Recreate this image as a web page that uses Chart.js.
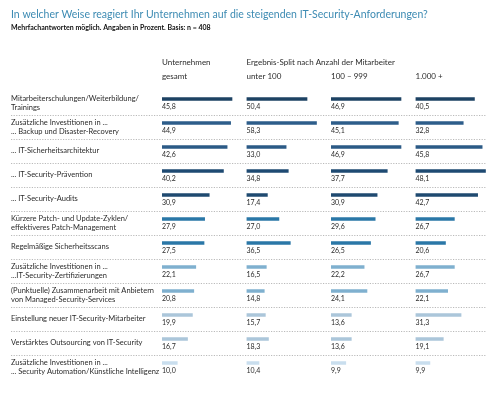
<!DOCTYPE html>
<html>
<head>
<meta charset="utf-8">
<script src="https://cdn.jsdelivr.net/npm/chart.js@4"></script>
<style>
    html, body { margin: 0; padding: 0; background: #fff; }
    #wrap { width: 500px; height: 397px; }
</style>
</head>
<body>
<div id="wrap"><canvas id="itSecurityChart"></canvas></div>
<script>
    // データ
    const labels = [
        ['Mitarbeiterschulungen/Weiterbildung/', 'Trainings'],
        ['Zusätzliche Investitionen in ...', '... Backup und Disaster-Recovery'],
        '... IT-Sicherheitsarchitektur',
        '... IT-Security-Prävention',
        '... IT-Security-Audits',
        ['Kürzere Patch- und Update-Zyklen/', 'effektiveres Patch-Management'],
        'Regelmäßige Sicherheitsscans',
        ['Zusätzliche Investitionen in ...', '...IT-Security-Zertifizierungen'],
        ['(Punktuelle) Zusammenarbeit mit Anbietern', 'von Managed-Security-Services'],
        'Einstellung neuer IT-Security-Mitarbeiter',
        'Verstärktes Outsourcing von IT-Security',
        ['Zusätzliche Investitionen in ...', '... Security Automation/Künstliche Intelligenz'],
    ];
    const gesamt = [45.8, 44.9, 42.6, 40.2, 30.9, 27.9, 27.5, 22.1, 20.8, 19.9, 16.7, 10.0];
    const unter100 = [50.4, 58.3, 33.0, 34.8, 17.4, 27.0, 36.5, 16.5, 14.8, 15.7, 18.3, 10.4];
    const bis999 = [46.9, 45.1, 46.9, 37.7, 30.9, 29.6, 26.5, 22.2, 24.1, 13.6, 13.6, 9.9];
    const ab1000 = [40.5, 32.8, 45.8, 48.1, 42.7, 26.7, 20.6, 26.7, 22.1, 31.3, 19.1, 9.9];

    // 列見出し
    const headTop = ['Unternehmen', 'Ergebnis-Split nach Anzahl der Mitarbeiter', '', ''];
    const headBottom = ['gesamt', 'unter 100', '100 – 999', '1.000 +'];

    // カラー
    const rowColors = [
        '#1d4263', '#2d5d8a', '#2b5a86', '#1e4a72', '#1f4a70',
        '#2a77a7', '#2a77a7',
        '#7fb0cf', '#7fb0cf',
        '#abc6da', '#abc6da',
        '#c9deee',
    ];

    const FONT = 'Lato, "Open Sans", sans-serif';
    const TEXT = '#2b2b2b';

    const series = [gesamt, unter100, bis999, ab1000];
    const datasets = series.map((values, i) => ({
        data: values,
        xAxisID: 'x' + i,
        backgroundColor: rowColors,
        barThickness: 3,
        grouped: false,
        borderWidth: 0,
    }));

    // 各列：最大値がバー領域 (約 70/84.5) に収まるように
    const colScale = () => ({
        type: 'linear',
        position: 'top',
        stack: 'cols',
        stackWeight: 1,
        display: false,
        min: 0,
        bounds: 'data',
        afterDataLimits: (s) => { s.max = s.max * 84.5 / 70; },
    });

    // 区切り線・数値・列見出し
    const decorations = {
        id: 'decorations',
        beforeDatasetsDraw(chart) {
            const { ctx } = chart;
            const y = chart.scales.y;
            ctx.save();
            ctx.strokeStyle = '#a8a8a8';
            ctx.lineWidth = 0.8;
            ctx.setLineDash([1.2, 1.4]);
            for (let i = 0; i < labels.length - 1; i++) {
                const yy = Math.round((y.getPixelForValue(i) + y.getPixelForValue(i + 1)) / 2 + 4) + 0.5;
                ctx.beginPath();
                ctx.moveTo(11, yy);
                ctx.lineTo(486, yy);
                ctx.stroke();
            }
            ctx.restore();
        },
        afterDatasetsDraw(chart) {
            const { ctx } = chart;
            ctx.save();
            ctx.fillStyle = TEXT;
            ctx.font = '7px ' + FONT;
            ctx.textAlign = 'left';
            ctx.textBaseline = 'middle';
            chart.data.datasets.forEach((ds, di) => {
                chart.getDatasetMeta(di).data.forEach((bar, i) => {
                    const v = ds.data[i].toFixed(1).replace('.', ',');
                    ctx.fillText(v, bar.base, bar.y + 7.5);
                });
            });
            // 列見出し
            ctx.font = '8px ' + FONT;
            series.forEach((_, i) => {
                const sc = chart.getDatasetMeta(i).xScale;
                ctx.fillText(headTop[i], sc.left, 62);
                ctx.fillText(headBottom[i], sc.left, 76);
            });
            ctx.restore();
        },
    };

    // グラフ描画
    const ctx = document.getElementById('itSecurityChart').getContext('2d');
    new Chart(ctx, {
        type: 'bar',
        data: {
            labels: labels,
            datasets: datasets,
        },
        options: {
            indexAxis: 'y',
            responsive: true,
            maintainAspectRatio: false,
            animation: false,
            layout: {
                padding: { left: 11, right: 0, top: 0, bottom: 22 },
            },
            scales: {
                y: {
                    type: 'category',
                    position: 'left',
                    grid: { display: false },
                    border: { display: false },
                    ticks: {
                        crossAlign: 'far',
                        labelOffset: 4,
                        color: TEXT,
                        autoSkip: false,
                        font: { family: FONT, size: 7.5, lineHeight: 1.2 },
                    },
                    afterFit: (s) => { s.width = 151; },
                },
                // 上端の軸は逆順に並ぶので x3 から定義
                x3: colScale(),
                x2: colScale(),
                x1: colScale(),
                x0: colScale(),
            },
            plugins: {
                legend: { display: false },
                title: {
                    display: true,
                    text: 'In welcher Weise reagiert Ihr Unternehmen auf die steigenden IT-Security-Anforderungen?',
                    align: 'start',
                    color: '#3d8bb3',
                    font: { family: FONT, size: 10.5, weight: 'normal', lineHeight: 1.2 },
                    padding: { top: 8, bottom: 3 },
                },
                subtitle: {
                    display: true,
                    text: 'Mehrfachantworten möglich. Angaben in Prozent. Basis: n = 408',
                    align: 'start',
                    color: '#111',
                    font: { family: FONT, size: 7, weight: 'bold', lineHeight: 1.2 },
                    padding: { top: 0, bottom: 55 },
                },
                tooltip: {
                    callbacks: {
                        label: (c) => `${c.raw.toFixed(1).replace('.', ',')} %`,
                    },
                },
            },
        },
        plugins: [decorations],
    });
</script>
</body>
</html>
